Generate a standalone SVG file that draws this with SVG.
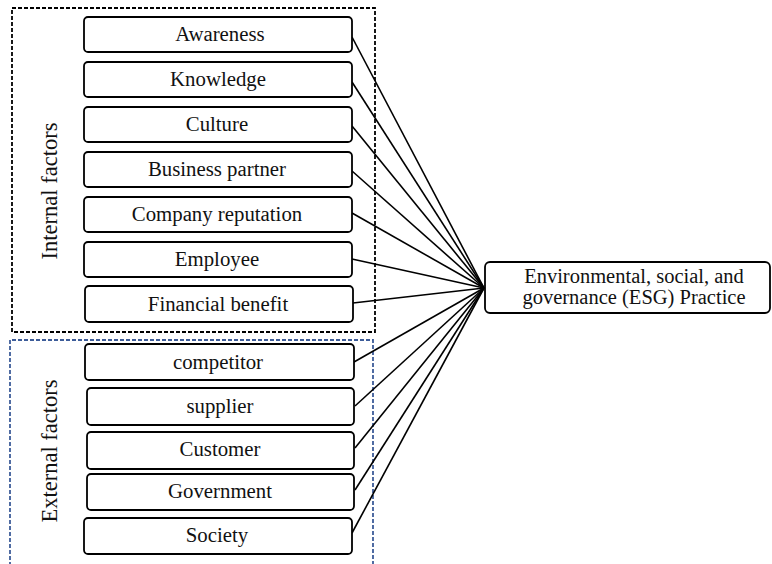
<svg xmlns="http://www.w3.org/2000/svg" width="772" height="564" viewBox="0 0 772 564">
  <style>
    .node rect { fill: #ffffff; stroke: #000000; stroke-width: 1.8; }
    .node text { font-family: "Liberation Serif", "Times New Roman", serif; font-size: 20.8px; fill: #111111; text-anchor: middle; }
    .esg text { font-size: 20.5px; }
    .group-label { font-family: "Liberation Serif", "Times New Roman", serif; font-size: 22.5px; fill: #111111; text-anchor: middle; }
    .frame-internal { fill: none; stroke: #000000; stroke-width: 1.8; stroke-dasharray: 4 2; }
    .frame-external { fill: none; stroke: #3d5c99; stroke-width: 1.8; stroke-dasharray: 4 2; }
    #connectors line { stroke: #000000; stroke-width: 1.6; }
  </style>

  <!-- group frames -->
  <rect class="frame-internal" x="12" y="8" width="363" height="324"/>
  <path class="frame-external" d="M10,566 V340 H373 V566"/>
  <text class="group-label" transform="translate(57,191) rotate(-90)">Internal factors</text>
  <text class="group-label" transform="translate(57,451) rotate(-90)">External factors</text>

  <!-- connectors: every factor feeds the ESG practice node -->
  <g id="connectors">
    <line x1="352" y1="37" x2="484" y2="288"/>
    <line x1="352" y1="82" x2="484" y2="288"/>
    <line x1="352" y1="126" x2="484" y2="288"/>
    <line x1="352" y1="171" x2="484" y2="288"/>
    <line x1="352" y1="213" x2="484" y2="288"/>
    <line x1="352" y1="259" x2="484" y2="288"/>
    <line x1="353" y1="303" x2="484" y2="288"/>
    <line x1="354" y1="362" x2="484" y2="288"/>
    <line x1="355" y1="406" x2="484" y2="288"/>
    <line x1="355" y1="448" x2="484" y2="288"/>
    <line x1="355" y1="490" x2="484" y2="288"/>
    <line x1="352" y1="533" x2="484" y2="288"/>
  </g>

  <!-- internal factors -->
  <g id="awareness" class="node"><rect x="84" y="17" width="268" height="35" rx="4"/><text x="220" y="41">Awareness</text></g>
  <g id="knowledge" class="node"><rect x="84" y="62" width="268" height="35" rx="4"/><text x="218" y="86">Knowledge</text></g>
  <g id="culture" class="node"><rect x="84" y="107" width="268" height="35" rx="4"/><text x="217" y="131">Culture</text></g>
  <g id="business-partner" class="node"><rect x="84" y="152" width="268" height="35" rx="4"/><text x="217" y="176">Business partner</text></g>
  <g id="company-reputation" class="node"><rect x="84" y="197" width="268" height="35" rx="4"/><text x="217" y="221">Company reputation</text></g>
  <g id="employee" class="node"><rect x="84" y="242" width="268" height="35" rx="4"/><text x="217" y="266">Employee</text></g>
  <g id="financial-benefit" class="node"><rect x="85" y="286" width="268" height="36" rx="4"/><text x="218" y="311">Financial benefit</text></g>

  <!-- external factors -->
  <g id="competitor" class="node"><rect x="85" y="344" width="269" height="36" rx="4"/><text x="218" y="369">competitor</text></g>
  <g id="supplier" class="node"><rect x="87" y="388" width="267" height="37" rx="4"/><text x="220" y="413">supplier</text></g>
  <g id="customer" class="node"><rect x="87" y="432" width="267" height="37" rx="4"/><text x="220" y="456">Customer</text></g>
  <g id="government" class="node"><rect x="87" y="474" width="267" height="36" rx="4"/><text x="220" y="498">Government</text></g>
  <g id="society" class="node"><rect x="84" y="518" width="268" height="36" rx="4"/><text x="217" y="542">Society</text></g>

  <!-- outcome -->
  <g id="esg-practice" class="node esg">
    <rect x="485" y="262" width="285" height="51" rx="5"/>
    <text x="634" y="283">Environmental, social, and</text>
    <text x="634" y="304">governance (ESG) Practice</text>
  </g>
</svg>
